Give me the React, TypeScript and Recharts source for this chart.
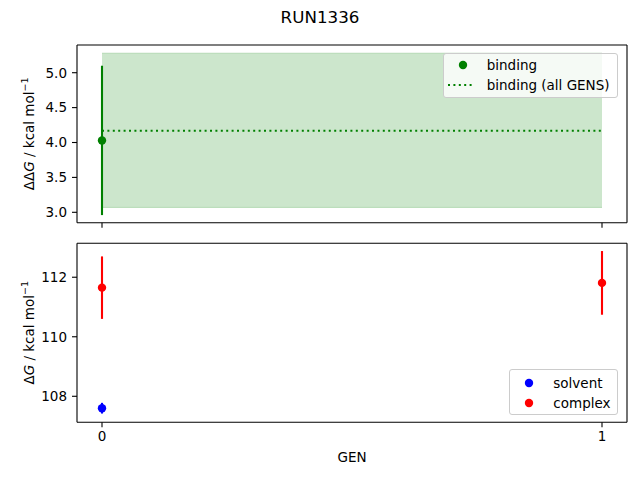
import React from "react";
import {
  Area,
  ComposedChart,
  ErrorBar,
  Label,
  Legend,
  Line,
  ReferenceLine,
  Scatter,
  XAxis,
  YAxis,
} from "recharts";

// values
const GENS = [0, 1];
const BINDING_GENS = [0];
const BINDING = [4.03];
const BINDING_ERR = [1.07];
const BINDING_ALL = 4.17;
const BINDING_ALL_LOW = 3.07;
const BINDING_ALL_HIGH = 5.28;

const SOLVENT_GENS = [0];
const SOLVENT = [107.6];
const SOLVENT_ERR = [0.18];
const COMPLEX_GENS = [0, 1];
const COMPLEX = [111.65, 111.81];
const COMPLEX_ERR = [1.05, 1.07];

const TOP_TICKS = [3.0, 3.5, 4.0, 4.5, 5.0];
const BOTTOM_TICKS = [108, 110, 112];

const X_DOMAIN = [-0.05, 1.05];
const TOP_DOMAIN = [2.851, 5.397];
const BOTTOM_DOMAIN = [107.126, 113.14];

const FONT = "DejaVu Sans";
const GREEN = "#008000";

const bandData = GENS.map((gen) => ({
  gen,
  band: [BINDING_ALL_LOW, BINDING_ALL_HIGH],
  all: BINDING_ALL,
}));
const bindingData = BINDING_GENS.map((gen, i) => ({ gen, value: BINDING[i], err: BINDING_ERR[i] }));
const solventData = SOLVENT_GENS.map((gen, i) => ({ gen, value: SOLVENT[i], err: SOLVENT_ERR[i] }));
const complexData = COMPLEX_GENS.map((gen, i) => ({ gen, value: COMPLEX[i], err: COMPLEX_ERR[i] }));

const tickStyle = { fill: "#000", fontSize: 13.5, fontFamily: FONT };
const axisLine = { stroke: "#000", strokeWidth: 1.1 };

const dot = (color: string) => (props: any) =>
  <circle cx={props.cx} cy={props.cy} r={4.2} fill={color} />;

function yLabel(prefix: string) {
  return (props: any) => {
    const vb = props.viewBox;
    const cx = vb.x + 12;
    const cy = vb.y + vb.height / 2;
    return (
      <text
        x={cx}
        y={cy}
        transform={`rotate(-90, ${cx}, ${cy})`}
        textAnchor="middle"
        dominantBaseline="central"
        fontSize={13.5}
        fontFamily={FONT}
        fill="#000"
      >
        <tspan>{prefix}</tspan>
        <tspan fontStyle="italic">G</tspan>
        <tspan> / kcal mol</tspan>
        <tspan fontSize={9.5} dy={-5}>−1</tspan>
      </text>
    );
  };
}

type Entry = { name: string; color: string; kind: "dot" | "dotted" };

function legendBox(entries: Entry[], width: number, height: number, rowTop: number) {
  return () => (
    <div
      style={{
        position: "relative",
        width,
        height,
        boxSizing: "border-box",
        border: "1px solid #cccccc",
        borderRadius: 3,
        background: "rgba(255,255,255,0.8)",
        fontFamily: FONT,
        fontSize: 13.5,
        color: "#000",
      }}
    >
      {entries.map((e, i) => (
        <div key={e.name} style={{ position: "absolute", left: 0, top: rowTop + i * 20 - 9, height: 16, width }}>
          <svg width={40} height={16} style={{ position: "absolute", left: 0, top: 0 }}>
            {e.kind === "dot" ? (
              <circle cx={19} cy={8} r={4.2} fill={e.color} />
            ) : (
              <line x1={4} x2={31} y1={8} y2={8} stroke={e.color} strokeWidth={2} strokeDasharray="2 3.4" />
            )}
          </svg>
          <span style={{ position: "absolute", left: 43, top: 0, lineHeight: "16px", whiteSpace: "nowrap" }}>{e.name}</span>
        </div>
      ))}
    </div>
  );
}

const topLegend: Entry[] = [
  { name: "binding", color: GREEN, kind: "dot" },
  { name: "binding (all GENS)", color: GREEN, kind: "dotted" },
];
const bottomLegend: Entry[] = [
  { name: "solvent", color: "#0000ff", kind: "dot" },
  { name: "complex", color: "#ff0000", kind: "dot" },
];

export default function App() {
  return (
    <div style={{ position: "absolute", left: 0, top: 0, width: 640, height: 480, background: "#fff" }}>
      <div
        style={{
          position: "absolute",
          left: 0,
          top: 6,
          width: 640,
          textAlign: "center",
          fontFamily: FONT,
          fontSize: 16.7,
          lineHeight: "22px",
        }}
      >
        RUN1336
      </div>

      <div style={{ position: "absolute", left: 0, top: 0 }}>
        <ComposedChart width={640} height={240} data={bandData} margin={{ top: 45, right: 13, bottom: 0, left: 17 }}>
          <XAxis
            dataKey="gen"
            type="number"
            domain={X_DOMAIN}
            ticks={GENS}
            tickFormatter={() => ""}
            height={17.3}
            axisLine={axisLine}
            tickLine={axisLine}
            tickSize={5}
          />
          <YAxis
            type="number"
            domain={TOP_DOMAIN}
            ticks={TOP_TICKS}
            tickFormatter={(v: number) => v.toFixed(1)}
            width={60}
            axisLine={axisLine}
            tickLine={axisLine}
            tick={tickStyle}
            tickSize={5}
            tickMargin={5}
          >
            <Label content={yLabel("ΔΔ")} />
          </YAxis>
          <Area
            type="linear"
            dataKey="band"
            fill={GREEN}
            fillOpacity={0.2}
            stroke={GREEN}
            strokeOpacity={0.2}
            isAnimationActive={false}
          />
          <Line
            type="linear"
            dataKey="all"
            stroke={GREEN}
            strokeWidth={2}
            strokeDasharray="2 3.4"
            dot={false}
            isAnimationActive={false}
          />
          <Scatter data={bindingData} dataKey="value" shape={dot(GREEN)} isAnimationActive={false}>
            <ErrorBar dataKey="err" direction="y" width={0} stroke={GREEN} strokeWidth={2.1} />
          </Scatter>
          <ReferenceLine y={TOP_DOMAIN[1]} stroke="#000" strokeWidth={1.1} />
          <ReferenceLine x={X_DOMAIN[1]} stroke="#000" strokeWidth={1.1} />
          <Legend
            layout="vertical"
            align="center"
            verticalAlign="middle"
            content={legendBox(topLegend, 175, 45, 12.3)}
            wrapperStyle={{ left: 442.7, top: 52.7, width: 175, height: 45 }}
          />
        </ComposedChart>
      </div>

      <div style={{ position: "absolute", left: 0, top: 230 }}>
        <ComposedChart width={640} height={250} margin={{ top: 13.3, right: 13, bottom: 0, left: 17 }}>
          <XAxis
            dataKey="gen"
            type="number"
            domain={X_DOMAIN}
            ticks={GENS}
            height={57.7}
            axisLine={axisLine}
            tickLine={axisLine}
            tick={tickStyle}
            tickSize={5}
            tickMargin={4}
          >
            <Label
              content={(props: any) => {
                const vb = props.viewBox;
                return (
                  <text x={vb.x + vb.width / 2} y={vb.y + 40} textAnchor="middle" fontSize={13.5} fontFamily={FONT} fill="#000">
                    GEN
                  </text>
                );
              }}
            />
          </XAxis>
          <YAxis
            type="number"
            domain={BOTTOM_DOMAIN}
            ticks={BOTTOM_TICKS}
            width={60}
            axisLine={axisLine}
            tickLine={axisLine}
            tick={tickStyle}
            tickSize={5}
            tickMargin={5}
          >
            <Label content={yLabel("Δ")} />
          </YAxis>
          <Scatter data={solventData} dataKey="value" shape={dot("#0000ff")} isAnimationActive={false}>
            <ErrorBar dataKey="err" direction="y" width={0} stroke="#0000ff" strokeWidth={2.1} />
          </Scatter>
          <Scatter data={complexData} dataKey="value" shape={dot("#ff0000")} isAnimationActive={false}>
            <ErrorBar dataKey="err" direction="y" width={0} stroke="#ff0000" strokeWidth={2.1} />
          </Scatter>
          <ReferenceLine y={BOTTOM_DOMAIN[1]} stroke="#000" strokeWidth={1.1} />
          <ReferenceLine x={X_DOMAIN[1]} stroke="#000" strokeWidth={1.1} />
          <Legend
            layout="vertical"
            align="center"
            verticalAlign="middle"
            content={legendBox(bottomLegend, 109, 45.7, 13.4)}
            wrapperStyle={{ left: 509.3, top: 139.3, width: 109, height: 45.7 }}
          />
        </ComposedChart>
      </div>
    </div>
  );
}
